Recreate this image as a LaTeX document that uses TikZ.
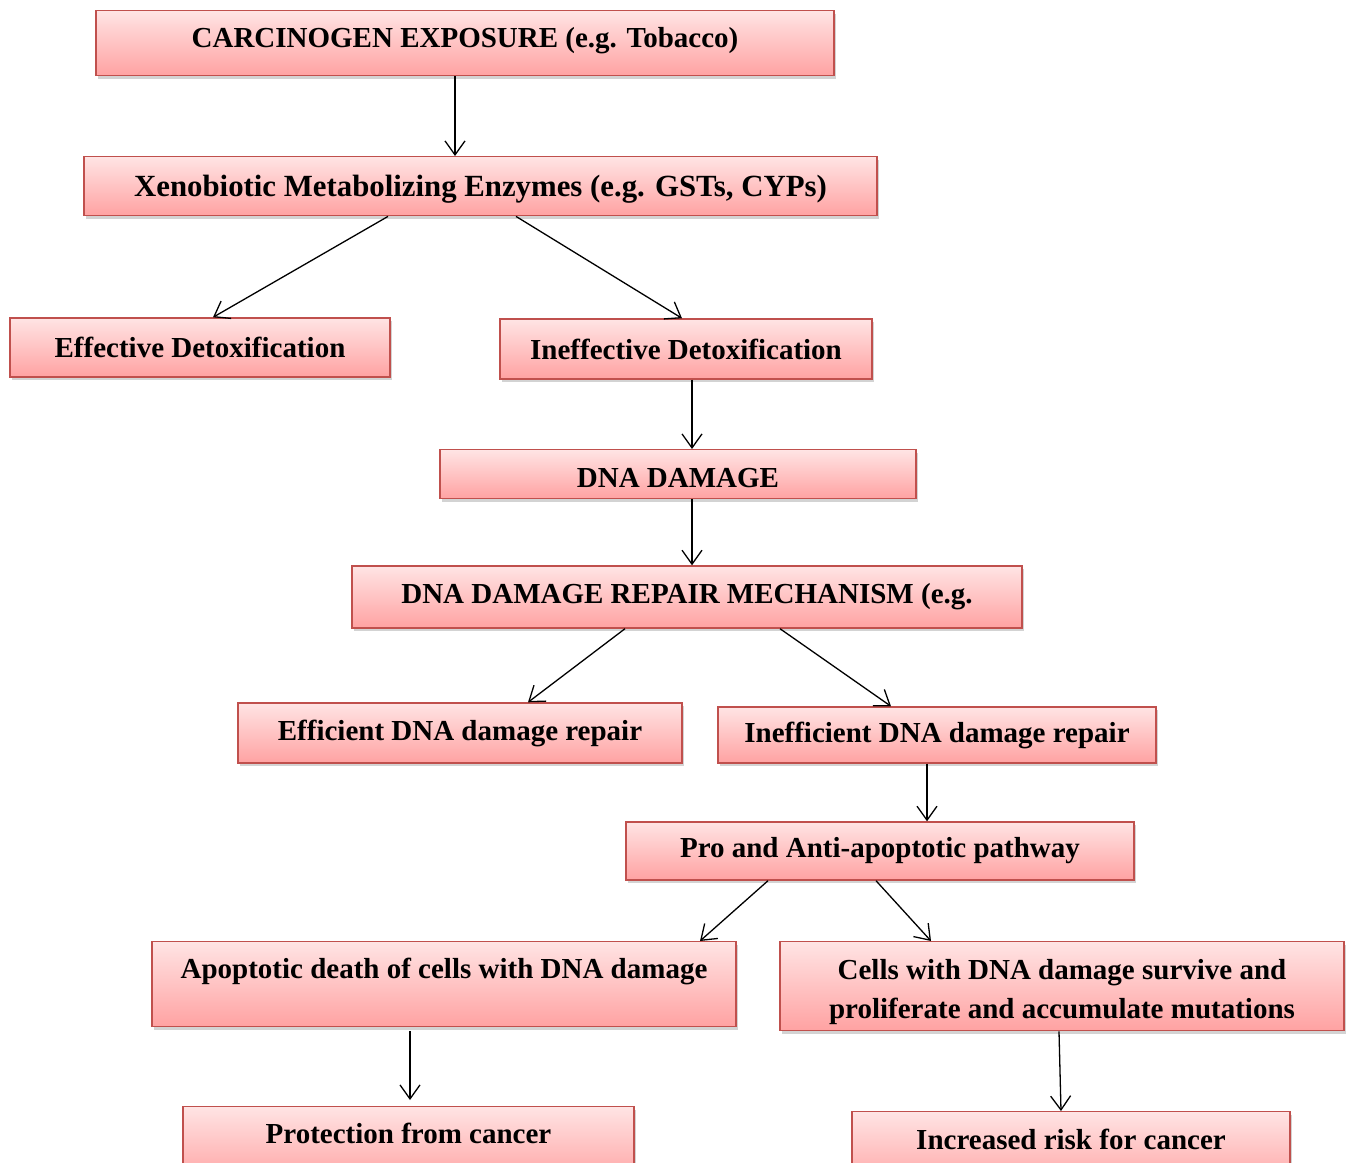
\documentclass[tikz,border=0pt]{standalone}
\usepackage{fontspec}
\setmainfont{Liberation Serif}
\usetikzlibrary{arrows.meta,shadows}
\definecolor{boxtop}{HTML}{FFE4E4}
\definecolor{boxbot}{HTML}{FFA2A2}
\definecolor{boxline}{HTML}{C0504D}
\begin{document}
\begin{tikzpicture}[x=1pt,y=-1pt,
        box/.style={draw=boxline,line width=1.4pt,top color=boxtop,bottom color=boxbot,
            drop shadow={shadow xshift=2pt,shadow yshift=-3pt,opacity=0.35},
            font=\fontsize{29}{39}\selectfont\bfseries,align=center,inner sep=0pt},
        arr/.style={line width=1.3pt,-{Straight Barb[length=14pt,width=20pt]}}]
    \useasboundingbox (0,0) rectangle (1351,1162);
            \node[box,minimum width=738pt,anchor=north,text height=37pt,text depth=28pt](carc) at (465,10){CARCINOGEN EXPOSURE (e.g. Tobacco)};
            \node[box,minimum width=793pt,anchor=north,text height=40pt,text depth=19pt,font=\fontsize{30.8}{39}\selectfont\bfseries](xeno) at (480.5,156){Xenobiotic Metabolizing Enzymes (e.g. GSTs, CYPs)};
            \node[box,minimum width=380pt,minimum height=59pt](effdet) at (200,347.5){Effective Detoxification};
            \node[box,minimum width=372pt,minimum height=60pt](inedet) at (686,349){Ineffective Detoxification};
            \node[box,minimum width=476pt,anchor=north,text height=38pt,text depth=11pt](dnad) at (678,449){DNA DAMAGE};
            \node[box,minimum width=670pt,minimum height=62pt](repair) at (687,597){DNA DAMAGE REPAIR MECHANISM (e.g.};
            \node[box,minimum width=444pt,minimum height=60pt](effrep) at (460,733){Efficient DNA damage repair};
            \node[box,minimum width=438pt,minimum height=56pt](ineffrep) at (937,735){Inefficient DNA damage repair};
            \node[box,minimum width=508pt,minimum height=58pt](pathway) at (880,851){Pro and Anti-apoptotic pathway};
            \node[box,minimum width=584pt,anchor=north,text height=37pt,text depth=48pt](apop) at (444,941){Apoptotic death of cells with DNA damage};
            \node[box,minimum width=564pt,anchor=north](cells) at (1062,941){\rule{0pt}{38pt}Cells with DNA damage survive and\\proliferate and accumulate mutations\rule[-12pt]{0pt}{12pt}};
            \node[box,minimum width=451pt,anchor=north,text height=37pt,text depth=40pt](protect) at (408.5,1106){Protection from cancer};
            \node[box,minimum width=438pt,anchor=north,text height=38pt,text depth=40pt](risk) at (1071,1111){Increased risk for cancer};
            % connectors
            \draw[arr] ([xshift=-10pt]carc.south) -- ([xshift=-25.5pt]xeno.north);
            \draw[arr] ([xshift=-92.5pt]xeno.south) -- ([xshift=13pt]effdet.north);
            \draw[arr] ([xshift=35.5pt]xeno.south) -- ([xshift=-4pt]inedet.north);
            \draw[arr] ([xshift=6pt]inedet.south) -- ([xshift=14pt]dnad.north);
            \draw[arr] ([xshift=14pt]dnad.south) -- ([xshift=5pt]repair.north);
            \draw[arr] ([xshift=-62pt]repair.south) -- ([xshift=68pt]effrep.north);
            \draw[arr] ([xshift=93pt]repair.south) -- ([xshift=-46pt]ineffrep.north);
            \draw[arr] ([xshift=-10pt]ineffrep.south) -- ([xshift=47pt]pathway.north);
            \draw[arr] ([xshift=-112pt]pathway.south) -- ([xshift=256pt]apop.north);
            \draw[arr] ([xshift=-4pt]pathway.south) -- ([xshift=-131pt]cells.north);
            \draw[arr] ([xshift=-34pt,yshift=-4pt]apop.south) -- ([xshift=1.5pt,yshift=6pt]protect.north);
            \draw[arr] ([xshift=-3pt]cells.south) -- ([xshift=-10pt]risk.north);
\end{tikzpicture}
\end{document}
